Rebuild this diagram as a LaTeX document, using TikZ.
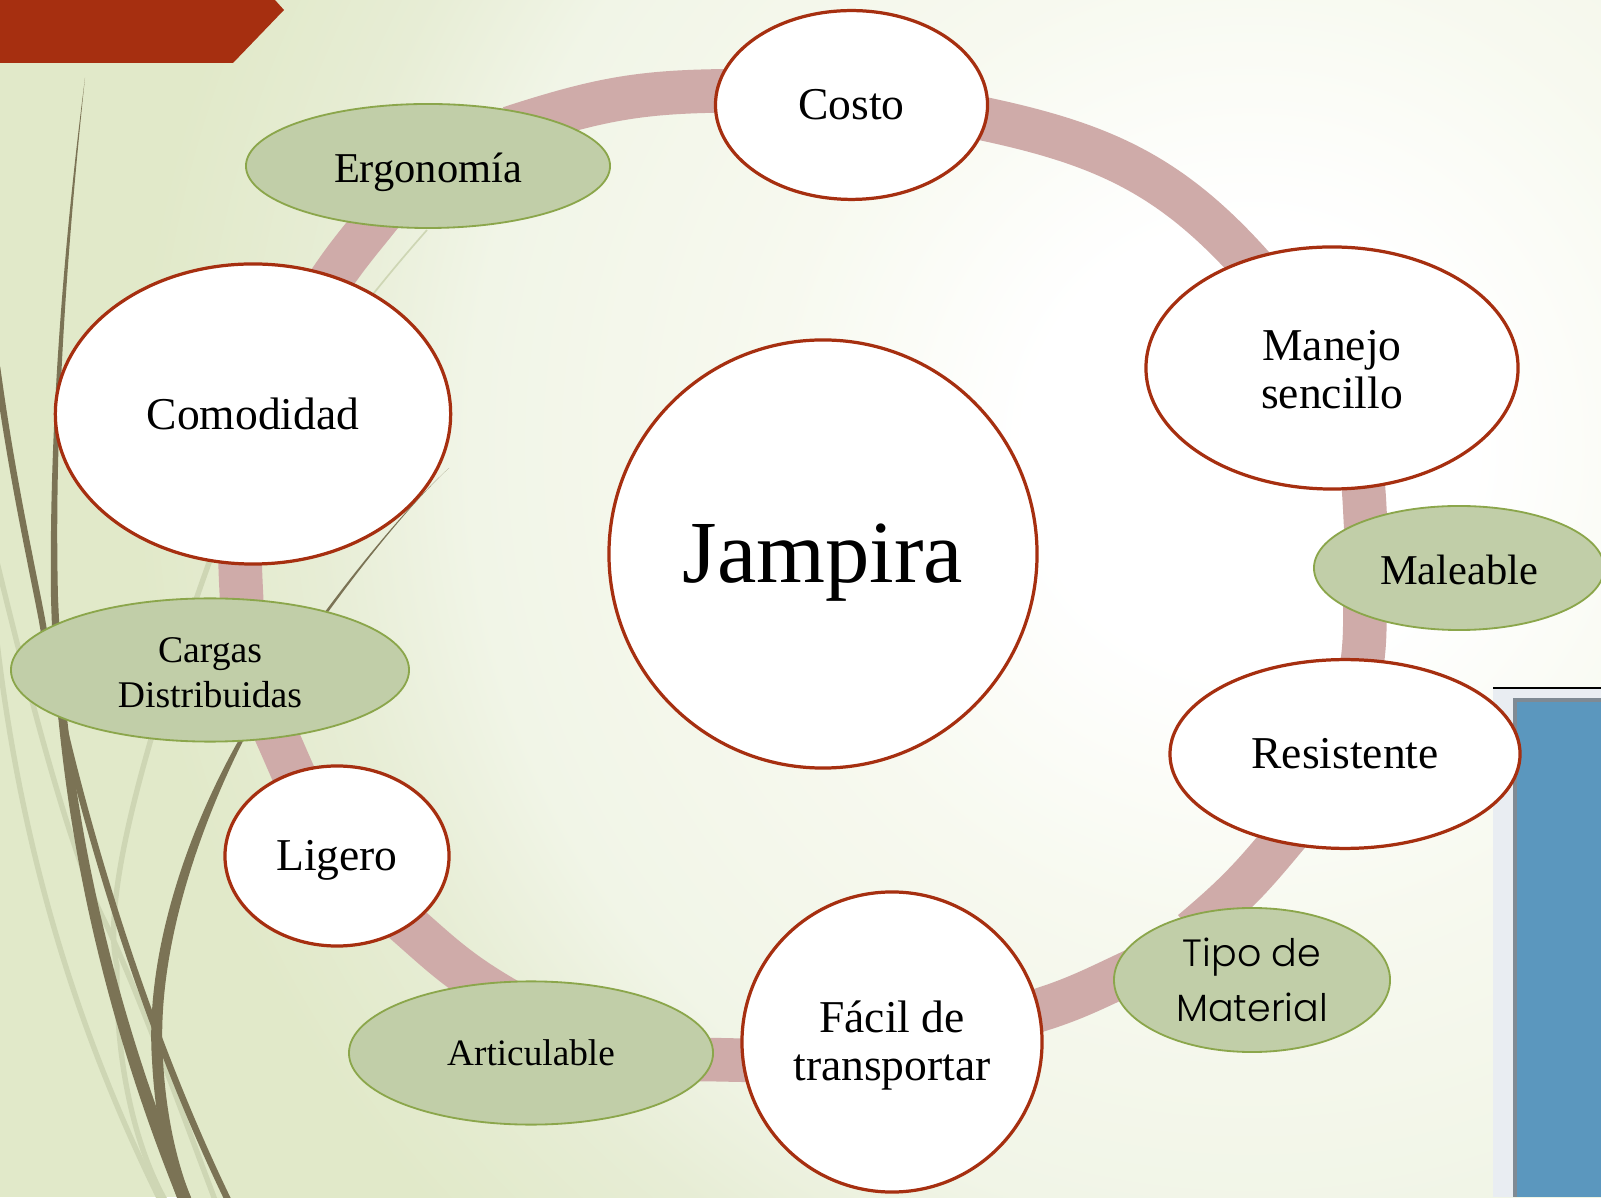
\documentclass[tikz,border=0pt]{standalone}
\usepackage{fontspec}
\setmainfont{Liberation Serif}
\newfontfamily\roundfont{Poppins Light}
\usetikzlibrary{shapes.geometric}
\definecolor{slidegreen}{HTML}{E1E9C9}
\definecolor{slidepale}{HTML}{F7F9EF}
\definecolor{slidemid}{HTML}{F1F5E7}
\definecolor{slidedeep}{HTML}{E7EDD5}
\definecolor{rust}{HTML}{A62F10}
\definecolor{ringrose}{HTML}{CFABA9}
\definecolor{leafgreen}{HTML}{C1CEA8}
\definecolor{leafline}{HTML}{8BA64B}
\definecolor{grassdark}{HTML}{7B7355}
\definecolor{grasslight}{HTML}{CED6B4}
\definecolor{panelpale}{HTML}{E9EDF2}
\definecolor{panelblue}{HTML}{5B97BE}
\definecolor{panelrim}{HTML}{7F8A94}
\pgfdeclareradialshading{slidewash}{\pgfpoint{0bp}{0bp}}{color(0bp)=(white); color(4.3bp)=(white); color(9.4bp)=(slidepale); color(15bp)=(slidemid); color(18bp)=(slidedeep); color(21.5bp)=(slidegreen); color(50bp)=(slidegreen)}
\pgfdeclarelayer{slide}
\pgfdeclarelayer{ring}
\pgfsetlayers{slide,ring,main}
\begin{document}
\begin{tikzpicture}[x=0.025cm,y=0.025cm]
    \tikzstyle{whitenode}=[ellipse,draw=rust,fill=white,line width=2.3pt,inner sep=0pt,align=center,font=\fontsize{32.4}{34}\selectfont]
    \tikzstyle{greennode}=[ellipse,draw=leafline,fill=leafgreen,line width=1.3pt,inner sep=0pt,align=center,font=\fontsize{30.2}{32}\selectfont]
    \tikzstyle{ringlink}=[draw=ringrose,line width=31pt,shorten <=-25pt,shorten >=-25pt]
    \tikzstyle{grassline}=[draw=grasslight,line width=3.8pt]
    \useasboundingbox (0,0) rectangle (1601,1197);

    % centre and the big white nodes
    \node[whitenode,minimum width=10.7cm,minimum height=10.7cm,font=\fontsize{63}{65}\selectfont] (jampira) at (823,643) {\rule{0pt}{54pt}Jampira};
    \node[whitenode,minimum width=6.8cm,minimum height=4.72cm] (costo) at (851.5,1092) {Costo};
    \node[whitenode,minimum width=9.3cm,minimum height=6.05cm] (manejo) at (1332,829) {\rule{0pt}{23.5pt}Manejo\\sencillo};
    \node[whitenode,minimum width=8.75cm,minimum height=4.72cm] (resistente) at (1345,443) {Resistente};
    \node[whitenode,minimum width=7.5cm,minimum height=7.5cm] (facil) at (892,155) {\rule{0pt}{28pt}Fácil de\\transportar};
    \node[whitenode,minimum width=5.6cm,minimum height=4.5cm] (ligero) at (337,341) {\rule{0pt}{28pt}Ligero};
    \node[whitenode,minimum width=9.88cm,minimum height=7.5cm] (comodidad) at (253,783) {Comodidad};

    % green nodes sitting on the ring
    \node[greennode,minimum width=9.1cm,minimum height=3.1cm] (ergonomia) at (428,1031) {\rule{0pt}{30.5pt}Ergonomía};
    \node[greennode,minimum width=7.25cm,minimum height=3.1cm] (maleable) at (1459,629) {\rule{0pt}{23.5pt}Maleable};
    \node[greennode,minimum width=6.9cm,minimum height=3.6cm,font=\roundfont\fontsize{27}{39}\selectfont] (tipo) at (1252,217) {Tipo de\\Material};
    \node[greennode,minimum width=9.1cm,minimum height=3.58cm,font=\fontsize{26.5}{28}\selectfont] (articulable) at (531,144) {Articulable};
    \node[greennode,minimum width=9.95cm,minimum height=3.58cm,font=\fontsize{26.8}{32}\selectfont] (cargas) at (210,527) {\rule{0pt}{21pt}Cargas\\Distribuidas};

    % the ring, one piece between neighbours
    \begin{pgfonlayer}{ring}
        \draw[ringlink] (costo.-6) to[out=-11,in=130] (manejo.128);
        \draw[ringlink] (manejo.-75) to[out=-82,in=95] (maleable.153);
        \draw[ringlink] (maleable.207) to[out=-90,in=80] (resistente.79);
        \draw[ringlink] (resistente.234) to[out=230,in=40] (tipo.115);
        \draw[ringlink] (tipo.180) to[out=205,in=15] (facil.12);
        \draw[ringlink] (facil.187) to[out=180,in=0] (articulable.-2);
        \draw[ringlink] (articulable.127) to[out=150,in=-40] (ligero.-44);
        \draw[ringlink] (ligero.118) to[out=115,in=-65] (cargas.-45);
        \draw[ringlink] (cargas.66) to[out=92,in=-90] (comodidad.265);
        \draw[ringlink] (comodidad.60) to[out=58,in=-128] (ergonomia.227);
        \draw[ringlink] (ergonomia.23) to[out=18,in=180] (costo.174);
    \end{pgfonlayer}

    \begin{pgfonlayer}{slide}
        \clip (0,0) rectangle (1601,1197);
        \fill[slidegreen] (0,0) rectangle (1601,1197);
        \shade[shading=slidewash] (1250,750) circle (1300);

        % pale blades
        \draw[grassline] (-3,635) .. controls (25,520) and (70,340) .. (107,271)
                                  .. controls (140,200) and (180,90) .. (215,-3);
        \draw[grassline] (-3,555) .. controls (20,360) and (70,180) .. (160,-3);
        \draw[grassline] (210,637) .. controls (150,470) and (100,300) .. (117,231)
                                   .. controls (115,150) and (130,60) .. (165,-3);
        \draw[grasslight,line width=1.2pt] (427,967) .. controls (350,880) and (260,760) .. (210,637);

        % dark blades
        \fill[grassdark] (85,1119) .. controls (62,940) and (49,760) .. (51,600)
                                   .. controls (56,400) and (96,200) .. (178,-3)
                                   -- (192,-3)
                                   .. controls (108,200) and (66,400) .. (58,600)
                                   .. controls (54,760) and (66,940) .. (85,1119);
        \draw[grassdark,line width=4.6pt] (-3,830) .. controls (12,720) and (30,640) .. (42,577)
                                          .. controls (65,440) and (130,200) .. (228,-3);
        \fill[grassdark] (449,729) .. controls (385,670) and (295,552) .. (236,452)
                                   .. controls (185,360) and (145,240) .. (152,137)
                                   .. controls (155,80) and (165,30) .. (178,-3)
                                   -- (192,-3)
                                   .. controls (178,30) and (166,80) .. (163,137)
                                   .. controls (156,240) and (195,360) .. (243,456)
                                   .. controls (308,566) and (398,682) .. (449,729);

        % corner tag
        \fill[rust] (0,1197) -- (275,1197) -- (284,1187) -- (233,1134) -- (0,1134) -- cycle;

        % panel on the right
        \fill[panelpale] (1493,0) rectangle (1601,508);
        \fill[black] (1493,508) rectangle (1601,509.5);
        \fill[panelrim] (1513,0) rectangle (1601,499);
        \fill[panelblue] (1517,0) rectangle (1601,495);
    \end{pgfonlayer}
\end{tikzpicture}
\end{document}
